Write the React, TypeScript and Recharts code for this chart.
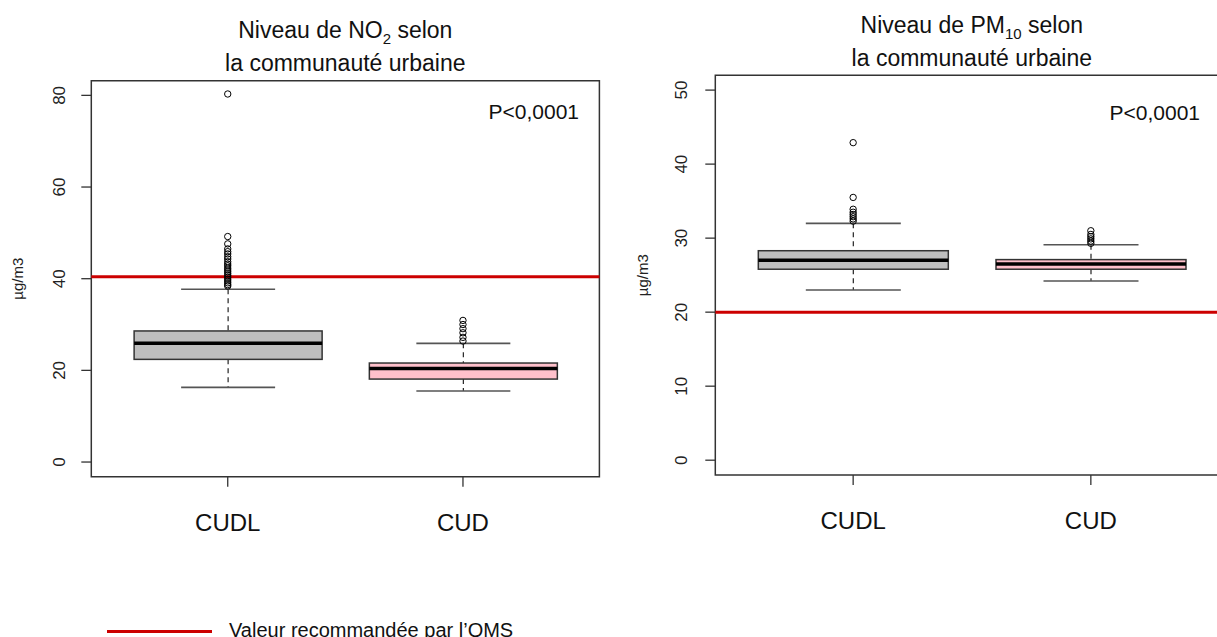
import React from "react";
import {
  Bar,
  ComposedChart,
  ReferenceArea,
  ReferenceLine,
  Scatter,
  XAxis,
  YAxis,
} from "recharts";

// groups
const categories = ["CUDL", "CUD"];
const boxFills = ["#bebebe", "#ffc0cb"];

// NO2 (µg/m3)
const no2Low = [16.3, 15.5];
const no2Q1 = [22.4, 18.1];
const no2Median = [25.9, 20.4];
const no2Q3 = [28.6, 21.6];
const no2High = [37.7, 25.9];
const no2OutCUDL = [80.3, 49.2, 47.6, 46.5, 45.9, 45.4, 44.8, 44.3, 43.7, 43.2, 42.8, 42.3, 41.9, 41.5, 41.1, 40.7, 40.3, 39.9, 39.5, 39.1, 38.7, 38.4];
const no2OutCUD = [30.9, 30.0, 29.1, 28.2, 27.2, 26.4];
const no2Ticks = [0, 20, 40, 60, 80];
const no2Limit = 40.4;

// PM10 (µg/m3)
const pm10Low = [23.0, 24.2];
const pm10Q1 = [25.8, 25.8];
const pm10Median = [27.0, 26.5];
const pm10Q3 = [28.3, 27.1];
const pm10High = [32.0, 29.1];
const pm10OutCUDL = [42.9, 35.5, 33.9, 33.5, 33.2, 32.9, 32.6, 32.3];
const pm10OutCUD = [31.0, 30.5, 30.2, 29.9, 29.6, 29.3];
const pm10Ticks = [0, 10, 20, 30, 40, 50];
const pm10Limit = 20;

const FONT = '"Liberation Sans", Arial, Helvetica, sans-serif';

const buildBoxes = (low: number[], q1: number[], med: number[], q3: number[], high: number[]) =>
  categories.map((name, i) => ({
    x: i + 1,
    name,
    range: [q1[i], q3[i]],
    low: low[i],
    q1: q1[i],
    median: med[i],
    q3: q3[i],
    high: high[i],
    fill: boxFills[i],
  }));

const buildOutliers = (lists: number[][]) =>
  lists.flatMap((vals, i) => vals.map((v) => ({ x: i + 1, y: v })));

// box drawn from the bar geometry; other values mapped with the same linear scale
const BoxShape = (props: any) => {
  const { x, y, width, height, payload } = props;
  const top = Math.min(y, y + height);
  const h = Math.abs(height);
  const { q1, q3, median, low, high, fill } = payload;
  const toPx = (v: number) => top + ((q3 - v) / (q3 - q1)) * h;
  const cx = x + width / 2;
  const cap = width / 4;
  return (
    <g>
      <line x1={cx} x2={cx} y1={toPx(high)} y2={top} stroke="#222" strokeWidth={1.2} strokeDasharray="5 4" />
      <line x1={cx} x2={cx} y1={top + h} y2={toPx(low)} stroke="#222" strokeWidth={1.2} strokeDasharray="5 4" />
      <line x1={cx - cap} x2={cx + cap} y1={toPx(high)} y2={toPx(high)} stroke="#555" strokeWidth={1.6} />
      <line x1={cx - cap} x2={cx + cap} y1={toPx(low)} y2={toPx(low)} stroke="#555" strokeWidth={1.6} />
      <rect x={x} y={top} width={width} height={h} fill={fill} stroke="#333" strokeWidth={1.5} />
      <line x1={x} x2={x + width} y1={toPx(median)} y2={toPx(median)} stroke="#000" strokeWidth={3.5} />
    </g>
  );
};

const Ring = (props: any) => (
  <circle cx={props.cx} cy={props.cy} r={3.2} fill="none" stroke="#000" strokeWidth={1} />
);

const YTick = (props: any) => {
  const { x, y, payload } = props;
  return (
    <text
      x={x}
      y={y}
      transform={`rotate(-90, ${x}, ${y})`}
      textAnchor="middle"
      dominantBaseline="central"
      fontSize={17}
      fill="#222"
      fontFamily={FONT}
    >
      {payload.value}
    </text>
  );
};

interface PanelProps {
  boxes: any[];
  outliers: { x: number; y: number }[];
  ticks: number[];
  domain: [number, number];
  limit: number;
  width: number;
  plotLeft: number;
  plotRight: number;
  plotTop: number;
  plotBottom: number;
  barSize: number;
  tickGap: number;
  labelOffset: number;
}

const xDomain: [number, number] = [0.42, 2.58];
const CHART_H = 560;
const XAXIS_H = 60;

const Panel = (p: PanelProps) => (
  <ComposedChart
    width={p.width}
    height={CHART_H}
    data={p.boxes}
    margin={{
      top: p.plotTop,
      right: p.width - p.plotRight,
      bottom: CHART_H - p.plotBottom - XAXIS_H,
      left: 0,
    }}
  >
    <XAxis
      type="number"
      dataKey="x"
      domain={xDomain}
      ticks={[1, 2]}
      interval={0}
      allowDataOverflow
      height={XAXIS_H}
      axisLine={false}
      tickLine={{ stroke: "#333", strokeWidth: 1.3 }}
      tickSize={10}
      tickMargin={27}
      tickFormatter={(v: number) => categories[v - 1]}
      tick={{ fontSize: 24, fill: "#111", fontFamily: FONT }}
    />
    <YAxis
      type="number"
      domain={p.domain}
      ticks={p.ticks}
      interval={0}
      allowDataOverflow
      width={p.plotLeft}
      axisLine={false}
      tickLine={{ stroke: "#333", strokeWidth: 1.3 }}
      tickSize={10}
      tickMargin={p.tickGap}
      tick={<YTick />}
      label={{
        value: "µg/m3",
        angle: -90,
        position: "insideLeft",
        offset: p.labelOffset,
        style: { textAnchor: "middle", fontSize: 15, fill: "#222", fontFamily: FONT },
      }}
    />
    <ReferenceArea
      x1={xDomain[0]}
      x2={xDomain[1]}
      y1={p.domain[0]}
      y2={p.domain[1]}
      fill="none"
      fillOpacity={0}
      stroke="#333"
      strokeWidth={1.5}
    />
    <Bar dataKey="range" barSize={p.barSize} shape={<BoxShape />} isAnimationActive={false} />
    <Scatter data={p.outliers} dataKey="y" shape={<Ring />} isAnimationActive={false} />
    <ReferenceLine y={p.limit} stroke="#cc0000" strokeWidth={3} />
  </ComposedChart>
);

const titleStyle: React.CSSProperties = {
  position: "absolute",
  textAlign: "center",
  fontSize: 23,
  lineHeight: "30px",
  color: "#111",
  whiteSpace: "nowrap",
};

const subStyle: React.CSSProperties = {
  fontSize: 15,
  position: "relative",
  top: 6,
};

const pStyle: React.CSSProperties = {
  position: "absolute",
  fontSize: 21,
  lineHeight: "21px",
  color: "#111",
  whiteSpace: "nowrap",
};

export default function App() {
  const no2Boxes = buildBoxes(no2Low, no2Q1, no2Median, no2Q3, no2High);
  const pm10Boxes = buildBoxes(pm10Low, pm10Q1, pm10Median, pm10Q3, pm10High);
  const no2Out = buildOutliers([no2OutCUDL, no2OutCUD]);
  const pm10Out = buildOutliers([pm10OutCUDL, pm10OutCUD]);

  return (
    <div
      style={{
        position: "absolute",
        left: 0,
        top: 0,
        width: 1217,
        height: 637,
        overflow: "hidden",
        background: "#fff",
        fontFamily: FONT,
      }}
    >
      <div style={{ position: "absolute", left: 0, top: 0 }}>
        <Panel
          boxes={no2Boxes}
          outliers={no2Out}
          ticks={no2Ticks}
          domain={[-3.2, 83.2]}
          limit={no2Limit}
          width={620}
          plotLeft={91.3}
          plotRight={599.4}
          plotTop={80.7}
          plotBottom={476.7}
          barSize={188}
          tickGap={22}
          labelOffset={17.5}
        />
      </div>
      <div style={{ position: "absolute", left: 600, top: 0 }}>
        <Panel
          boxes={pm10Boxes}
          outliers={pm10Out}
          ticks={pm10Ticks}
          domain={[-2, 52]}
          limit={pm10Limit}
          width={650}
          plotLeft={115.3}
          plotRight={628.7}
          plotTop={75.3}
          plotBottom={475}
          barSize={190}
          tickGap={24}
          labelOffset={43}
        />
      </div>

      <div style={{ ...titleStyle, left: 91.3, width: 508, top: 14.5 }}>
        Niveau de NO<span style={subStyle}>2</span> selon
        <br />
        la communauté urbaine
      </div>
      <div style={{ ...titleStyle, left: 715.3, width: 513, top: 9.5 }}>
        Niveau de PM<span style={subStyle}>10</span> selon
        <br />
        la communauté urbaine
      </div>

      <div style={{ ...pStyle, right: 1217 - 579, top: 101 }}>P&lt;0,0001</div>
      <div style={{ ...pStyle, right: 1217 - 1200, top: 102 }}>P&lt;0,0001</div>

      <div
        style={{
          position: "absolute",
          left: 107,
          top: 629.5,
          width: 105,
          height: 3,
          background: "#cc0000",
        }}
      />
      <div
        style={{
          position: "absolute",
          left: 229,
          top: 619.5,
          fontSize: 20,
          lineHeight: "20px",
          color: "#111",
          whiteSpace: "nowrap",
        }}
      >
        Valeur recommandée par l’OMS
      </div>
    </div>
  );
}
